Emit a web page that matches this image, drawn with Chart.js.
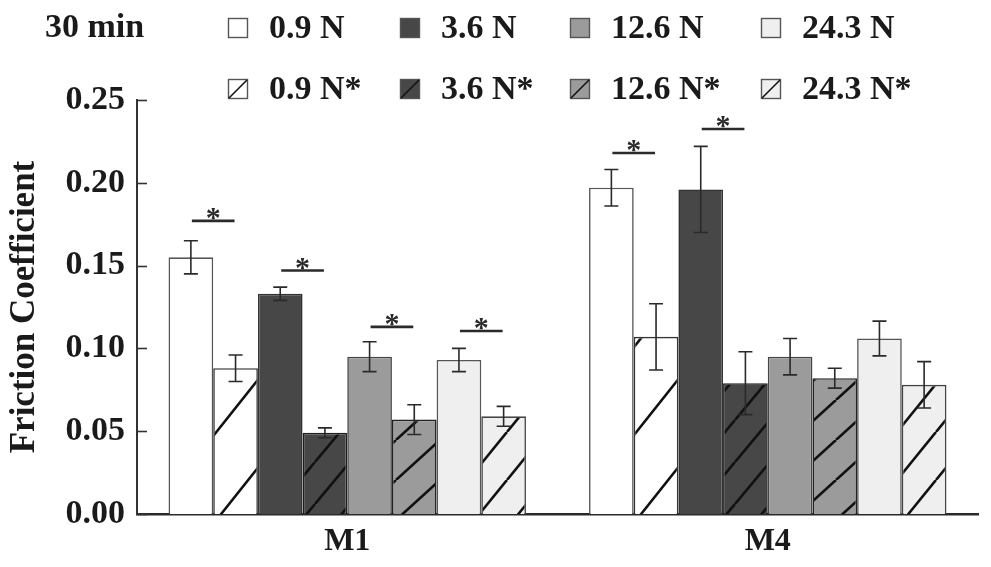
<!DOCTYPE html>
<html>
<head>
<meta charset="utf-8">
<script src="https://cdn.jsdelivr.net/npm/chart.js@4"></script>
<style>
  body { margin: 0; background: #fff; }
  #wrap { width: 991px; height: 567px; position: relative; }
</style>
</head>
<body>
<div id="wrap"><canvas id="friction"></canvas></div>
<script>
// values (mean, +/- error)
const categories = ["M1", "M4"];
const timeLabel = "30 min";

const n09 = [0.155, 0.197];
const n09Err = [0.010, 0.011];
const n09s = [0.088, 0.107];
const n09sErr = [0.008, 0.020];
const n36 = [0.133, 0.196];
const n36Err = [0.004, 0.026];
const n36s = [0.049, 0.079];
const n36sErr = [0.003, 0.019];
const n126 = [0.095, 0.095];
const n126Err = [0.009, 0.011];
const n126s = [0.057, 0.082];
const n126sErr = [0.009, 0.006];
const n243 = [0.093, 0.106];
const n243Err = [0.007, 0.0105];
const n243s = [0.059, 0.078];
const n243sErr = [0.006, 0.014];

// significance bars: category index, dataset pair, height of the line
const sigCats = [0, 0, 0, 0, 1, 1];
const sigLeft = [0, 2, 4, 6, 0, 2];
const sigRight = [1, 3, 5, 7, 1, 3];
const sigLevel = [0.177, 0.147, 0.113, 0.1105, 0.218, 0.2325];

const yTicks = [0, 0.05, 0.1, 0.15, 0.2, 0.25];

const FONT = '"Liberation Serif", "Times New Roman", serif';
const INK = "#1a1a1a";

function makeHatch(fill, spacing, slope) {
  const w = Math.round(spacing / slope);
  const h = spacing;
  const c = document.createElement("canvas");
  c.width = w;
  c.height = h;
  const g = c.getContext("2d");
  g.fillStyle = fill;
  g.fillRect(0, 0, w, h);
  g.strokeStyle = "#111";
  g.lineWidth = 2.6;
  for (const dx of [-w, 0, w]) {
    g.beginPath();
    g.moveTo(dx, h);
    g.lineTo(dx + w, 0);
    g.stroke();
  }
  return g.createPattern(c, "repeat");
}

const fills = ["#ffffff", "#ffffff", "#474747", "#474747", "#9b9b9b", "#9b9b9b", "#efefef", "#efefef"];
const hatched = [false, true, false, true, false, true, false, true];

const datasets = [
  { label: "0.9 N", data: n09, errors: n09Err, backgroundColor: fills[0], borderColor: "#555" },
  { label: "0.9 N*", data: n09s, errors: n09sErr, backgroundColor: makeHatch(fills[1], 88, 1.25), borderColor: "#333" },
  { label: "3.6 N", data: n36, errors: n36Err, backgroundColor: fills[2], borderColor: "#333" },
  { label: "3.6 N*", data: n36s, errors: n36sErr, backgroundColor: makeHatch(fills[3], 42, 1.2), borderColor: "#1e1e1e" },
  { label: "12.6 N", data: n126, errors: n126Err, backgroundColor: fills[4], borderColor: "#444" },
  { label: "12.6 N*", data: n126s, errors: n126sErr, backgroundColor: makeHatch(fills[5], 40, 0.9), borderColor: "#222" },
  { label: "24.3 N", data: n243, errors: n243Err, backgroundColor: fills[6], borderColor: "#555" },
  { label: "24.3 N*", data: n243s, errors: n243sErr, backgroundColor: makeHatch(fills[7], 48, 1.24), borderColor: "#444" },
];
datasets.forEach((d) => {
  d.borderWidth = 1.6;
  d.barPercentage = 1;
  d.categoryPercentage = 0.85;
});

const errorBars = {
  id: "errorBars",
  afterDatasetsDraw(chart) {
    const ctx = chart.ctx;
    const y = chart.scales.y;
    ctx.save();
    ctx.strokeStyle = "#2a2a2a";
    ctx.lineWidth = 1.6;
    chart.data.datasets.forEach((ds, i) => {
      chart.getDatasetMeta(i).data.forEach((bar, j) => {
        const top = y.getPixelForValue(ds.data[j] + ds.errors[j]);
        const bot = y.getPixelForValue(ds.data[j] - ds.errors[j]);
        ctx.beginPath();
        ctx.moveTo(bar.x, top);
        ctx.lineTo(bar.x, bot);
        ctx.moveTo(bar.x - 7, top);
        ctx.lineTo(bar.x + 7, top);
        ctx.moveTo(bar.x - 7, bot);
        ctx.lineTo(bar.x + 7, bot);
        ctx.stroke();
      });
    });
    ctx.restore();
  },
};

const sigMarks = {
  id: "sigMarks",
  afterDatasetsDraw(chart) {
    const ctx = chart.ctx;
    const y = chart.scales.y;
    ctx.save();
    ctx.strokeStyle = "#2a2a2a";
    ctx.fillStyle = "#2a2a2a";
    ctx.lineWidth = 2.6;
    ctx.font = "bold 30px " + FONT;
    ctx.textAlign = "center";
    ctx.textBaseline = "alphabetic";
    sigLevel.forEach((lvl, k) => {
      const xa = chart.getDatasetMeta(sigLeft[k]).data[sigCats[k]].x;
      const xb = chart.getDatasetMeta(sigRight[k]).data[sigCats[k]].x;
      const py = y.getPixelForValue(lvl);
      ctx.beginPath();
      ctx.moveTo(xa + 1, py);
      ctx.lineTo(xb - 1, py);
      ctx.stroke();
      ctx.fillText("*", (xa + xb) / 2, py + 6);
    });
    ctx.restore();
  },
};

// inward tick marks on the y axis
const innerTicks = {
  id: "innerTicks",
  afterDraw(chart) {
    const ctx = chart.ctx;
    const y = chart.scales.y;
    const x0 = chart.chartArea.left;
    ctx.save();
    ctx.strokeStyle = "#333";
    ctx.lineWidth = 1.6;
    yTicks.forEach((t) => {
      const py = Math.round(y.getPixelForValue(t)) + 0.5;
      ctx.beginPath();
      ctx.moveTo(x0, py);
      ctx.lineTo(x0 + 10, py);
      ctx.stroke();
    });
    ctx.restore();
  },
};

const legendBoxX = [228, 400, 570, 761];
const legendRowY = [28, 89];

const topLegend = {
  id: "topLegend",
  afterDraw(chart) {
    const ctx = chart.ctx;
    ctx.save();
    ctx.font = "bold 34px " + FONT;
    ctx.fillStyle = INK;
    ctx.textBaseline = "middle";
    ctx.textAlign = "left";
    ctx.fillText(timeLabel, 45, legendRowY[0]);
    chart.data.datasets.forEach((ds, i) => {
      const col = Math.floor(i / 2);
      const row = i % 2;
      const bx = legendBoxX[col];
      const cy = legendRowY[row];
      ctx.fillStyle = fills[i];
      ctx.fillRect(bx, cy - 10, 20, 20);
      ctx.strokeStyle = "#555";
      ctx.lineWidth = 1.4;
      ctx.strokeRect(bx + 0.5, cy - 9.5, 19, 19);
      if (hatched[i]) {
        ctx.strokeStyle = "#111";
        ctx.lineWidth = 1.6;
        ctx.beginPath();
        ctx.moveTo(bx + 1, cy + 9);
        ctx.lineTo(bx + 19, cy - 9);
        ctx.stroke();
      }
      ctx.fillStyle = INK;
      ctx.fillText(ds.label, bx + 41, cy + 1);
    });
    ctx.restore();
  },
};

Chart.defaults.font.family = FONT;
Chart.defaults.font.weight = "bold";
Chart.defaults.color = INK;

new Chart(document.getElementById("friction"), {
  type: "bar",
  data: { labels: categories, datasets: datasets },
  options: {
    responsive: true,
    maintainAspectRatio: false,
    animation: false,
    layout: { padding: { top: 100, right: 13, left: 0, bottom: 0 } },
    plugins: { legend: { display: false }, tooltip: { enabled: false } },
    scales: {
      x: {
        grid: { display: false, drawTicks: false },
        border: { display: true, color: "#2a2a2a", width: 2.4 },
        ticks: { font: { size: 32, weight: "bold" }, padding: 9, color: INK },
        afterFit(scale) {
          scale.height = 53;
        },
      },
      y: {
        min: 0,
        max: 0.25,
        grid: { display: false, drawTicks: false },
        border: { display: true, color: "#333", width: 2 },
        ticks: {
          stepSize: 0.05,
          padding: 12,
          font: { size: 34, weight: "bold" },
          color: INK,
          callback: (v) => v.toFixed(2),
        },
        title: {
          display: true,
          text: "Friction Coefficient",
          font: { size: 35, weight: "bold" },
          color: INK,
          padding: { top: 4, bottom: 0 },
        },
        afterFit(scale) {
          scale.width = 137;
        },
      },
    },
  },
  plugins: [errorBars, sigMarks, innerTicks, topLegend],
});
</script>
</body>
</html>
